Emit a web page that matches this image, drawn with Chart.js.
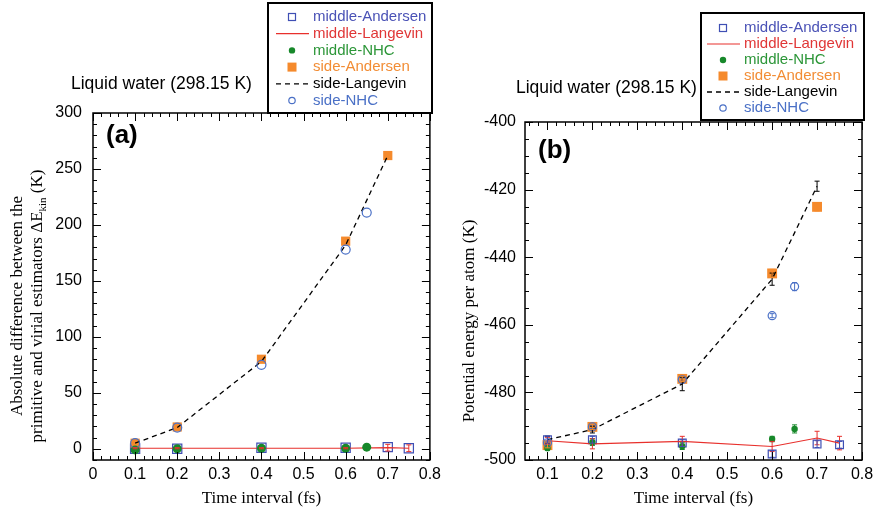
<!DOCTYPE html>
<html lang="en">
<head>
<meta charset="UTF-8">
<title>Liquid water (298.15 K)</title>
<script src="https://cdn.jsdelivr.net/npm/chart.js"></script>
<style>
    body { margin: 0; background: #fff; }
    #wrap { position: relative; width: 879px; height: 512px; }
    canvas { position: absolute; top: 0; }
    #chartA { left: 0; }
    #chartB { left: 440px; }
</style>
</head>
<body>
<div id="wrap">
    <canvas id="chartA" width="446" height="512"></canvas>
    <canvas id="chartB" width="439" height="512"></canvas>
</div>
<script>
    // ---- data ----
    const legendNames = ['middle-Andersen', 'middle-Langevin', 'middle-NHC', 'side-Andersen', 'side-Langevin', 'side-NHC'];

    const xTicksA = [0, 0.1, 0.2, 0.3, 0.4, 0.5, 0.6, 0.7, 0.8];
    const yTicksA = [0, 50, 100, 150, 200, 250, 300];
    const xTicksB = [0.1, 0.2, 0.3, 0.4, 0.5, 0.6, 0.7, 0.8];
    const yTicksB = [-500, -480, -460, -440, -420, -400];

    // time intervals (fs) per series
    const tMid = [0.1, 0.2, 0.4, 0.6, 0.7, 0.75];     // middle-Andersen, middle-Langevin
    const tMidNHC = [0.1, 0.2, 0.4, 0.6, 0.65];
    const tSide = [0.1, 0.2, 0.4, 0.6, 0.7];          // side-Andersen, side-Langevin
    const tSideNHC = [0.1, 0.2, 0.4, 0.6, 0.65];

    // (a) |primitive - virial| kinetic energy difference (K)
    const aMidAndersen = [0, 0, 1, 1, 1.5, 0.5];
    const aMidLangevin = [0.5, 0.5, 0.5, 0.5, 1, 0.5];
    const aMidLangevinErr = [0.5, 0.5, 0.5, 0.5, 3, 3];
    const aMidNHC = [-1, 0, 0.5, 0.5, 1.5];
    const aSideAndersen = [5, 19.5, 80, 185.5, 262];
    const aSideLangevin = [5, 19, 78, 182, 262];
    const aSideNHC = [5, 19, 75, 178, 211];

    // (b) potential energy per atom (K)
    const bMidAndersen = [-494, -494, -495, -498.2, -495.3, -495.5];
    const bMidAndersenErr = [1, 1, 1, 1, 1, 1];
    const bMidLangevin = [-494.3, -495.2, -494.5, -496, -493.5, -495];
    const bMidLangevinErr = [1, 1.5, 1.5, 1.5, 2, 2];
    const bMidNHC = [-496.5, -494.7, -495.9, -493.8, -490.8];
    const bMidNHCErr = [0.6, 1, 1, 0.8, 1.2];
    const bSideAndersen = [-495.6, -490.2, -476, -444.8, -425.1];
    const bSideAndersenErr = [0.8, 0.8, 0.8, 1.2, 1.2];
    const bSideLangevin = [-494, -491, -477.5, -446.5, -419];
    const bSideLangevinErr = [1, 1, 2, 1.8, 1.5];
    const bSideNHC = [-494.9, -490.2, -476.2, -457.3, -448.7];
    const bSideNHCErr = [0.5, 0.5, 0.5, 0.6, 1.2];

    // ---- styles ----
    const BLUE = '#3f4fb4', RED = '#e8302c', GREEN = '#17882a', ORANGE = '#f58a2c', LBLUE = '#4a70c6';
    const textColors = ['#4a52b6', '#e03636', '#2c9638', '#f28d35', '#000', '#4a70c6'];
    const SANS = '"Liberation Sans", Arial, sans-serif';
    const SERIF = '"Liberation Serif", "Times New Roman", serif';

    function pts(xs, ys) {
        return xs.map((x, i) => ({x: x, y: ys[i]}));
    }

    function makeDatasets(d, big) {
        return [
            {label: 'side-NHC', data: pts(tSideNHC, d.sideNHC), errors: d.sideNHCErr, order: 0,
                pointStyle: 'circle', pointRadius: big ? 4.5 : 4, borderColor: LBLUE, backgroundColor: 'rgba(0,0,0,0)',
                pointBorderWidth: 1.2, showLine: false},
            {label: 'side-Langevin', data: pts(tSide, d.sideLangevin), errors: d.sideLangevinErr, order: 1,
                pointRadius: 0, borderColor: '#000', borderWidth: 1.3, borderDash: [5, 4], showLine: true, errColor: '#000'},
            {label: 'middle-NHC', data: pts(tMidNHC, d.midNHC), errors: d.midNHCErr, order: 2,
                pointStyle: 'circle', pointRadius: big ? 4.5 : 3.2, borderColor: GREEN, backgroundColor: GREEN,
                pointBorderWidth: 0, showLine: false},
            {label: 'middle-Langevin', data: pts(tMid, d.midLangevin), errors: d.midLangevinErr, order: 3,
                pointRadius: 0, borderColor: RED, borderWidth: 1.2, showLine: true},
            {label: 'side-Andersen', data: pts(tSide, d.sideAndersen), errors: d.sideAndersenErr, order: 4,
                pointStyle: 'rect', pointRadius: big ? 6.5 : 7, borderColor: ORANGE, backgroundColor: ORANGE,
                pointBorderWidth: 0, showLine: false},
            {label: 'middle-Andersen', data: pts(tMid, d.midAndersen), errors: d.midAndersenErr, order: 5,
                pointStyle: 'rect', pointRadius: big ? 6.5 : 5.5, borderColor: BLUE, backgroundColor: 'rgba(0,0,0,0)',
                pointBorderWidth: 1.2, showLine: false}
        ];
    }

    // ---- plugins ----
    const errorBars = {
        id: 'errorBars',
        afterDatasetsDraw(chart) {
            const {ctx, scales: {x, y}} = chart;
            ctx.save();
            chart.data.datasets.forEach(ds => {
                if (!ds.errors) return;
                ctx.strokeStyle = ds.errColor || ds.borderColor;
                ctx.lineWidth = 1;
                ds.data.forEach((p, i) => {
                    const e = ds.errors[i];
                    if (!e) return;
                    const px = x.getPixelForValue(p.x);
                    const y0 = y.getPixelForValue(p.y - e), y1 = y.getPixelForValue(p.y + e);
                    ctx.beginPath();
                    ctx.moveTo(px, y0); ctx.lineTo(px, y1);
                    ctx.moveTo(px - 2.5, y0); ctx.lineTo(px + 2.5, y0);
                    ctx.moveTo(px - 2.5, y1); ctx.lineTo(px + 2.5, y1);
                    ctx.stroke();
                });
            });
            ctx.restore();
        }
    };

    const frame = {
        id: 'frame',
        afterDraw(chart, args, opts) {
            const {ctx, chartArea: a, scales: {x, y}} = chart;
            ctx.save();
            ctx.strokeStyle = '#000';
            ctx.lineWidth = 1.5;
            ctx.strokeRect(a.left, a.top, a.right - a.left, a.bottom - a.top);
            ctx.lineWidth = 1;
            ctx.beginPath();
            const xt = (v, len) => {
                const p = Math.round(x.getPixelForValue(v)) + 0.5;
                ctx.moveTo(p, a.bottom); ctx.lineTo(p, a.bottom - len);
                ctx.moveTo(p, a.top); ctx.lineTo(p, a.top + len);
            };
            const yt = (v, len) => {
                const p = Math.round(y.getPixelForValue(v)) + 0.5;
                ctx.moveTo(a.left, p); ctx.lineTo(a.left + len, p);
                ctx.moveTo(a.right, p); ctx.lineTo(a.right - len, p);
            };
            for (let k = Math.ceil(x.min / opts.xMinor - 1e-6); k * opts.xMinor <= x.max + 1e-9; k++) xt(k * opts.xMinor, 4);
            for (let k = Math.ceil(y.min / opts.yMinor - 1e-6); k * opts.yMinor <= y.max + 1e-9; k++) yt(k * opts.yMinor, 4);
            x.ticks.forEach(t => xt(t.value, 8));
            y.ticks.forEach(t => yt(t.value, 8));
            ctx.stroke();
            ctx.restore();
        }
    };

    const boxLegend = {
        id: 'boxLegend',
        afterDraw(chart, args, o) {
            const ctx = chart.ctx;
            ctx.save();
            ctx.fillStyle = '#fff';
            ctx.fillRect(o.x, o.y, o.w, o.h);
            ctx.strokeStyle = '#000';
            ctx.lineWidth = 2;
            ctx.strokeRect(o.x, o.y, o.w, o.h);
            ctx.font = '15px ' + SANS;
            ctx.textBaseline = 'middle';
            legendNames.forEach((name, i) => {
                const ds = chart.data.datasets.find(d => d.label === name);
                const cy = o.row0 + i * o.dy;
                const mx = o.markX;
                if (ds.showLine) {
                    ctx.strokeStyle = ds.borderColor;
                    ctx.lineWidth = ds.borderWidth;
                    ctx.setLineDash(ds.borderDash || []);
                    ctx.beginPath();
                    ctx.moveTo(mx - 16, cy); ctx.lineTo(mx + 17, cy);
                    ctx.stroke();
                    ctx.setLineDash([]);
                } else if (ds.pointStyle === 'rect') {
                    const s = ds.backgroundColor === ORANGE ? 9 : 7;
                    if (ds.backgroundColor === ORANGE) {
                        ctx.fillStyle = ORANGE;
                        ctx.fillRect(mx - s / 2, cy - s / 2, s, s);
                    } else {
                        ctx.strokeStyle = ds.borderColor;
                        ctx.lineWidth = 1.2;
                        ctx.strokeRect(mx - s / 2, cy - s / 2, s, s);
                    }
                } else {
                    ctx.beginPath();
                    ctx.arc(mx, cy, 3.2, 0, Math.PI * 2);
                    if (ds.backgroundColor === GREEN) {
                        ctx.fillStyle = GREEN; ctx.fill();
                    } else {
                        ctx.strokeStyle = ds.borderColor; ctx.lineWidth = 1.2; ctx.stroke();
                    }
                }
                ctx.fillStyle = textColors[i];
                ctx.fillText(name, o.textX, cy);
            });
            ctx.restore();
        }
    };

    const notes = {
        id: 'notes',
        afterDraw(chart, args, o) {
            const ctx = chart.ctx;
            ctx.save();
            ctx.fillStyle = '#000';
            ctx.textBaseline = 'middle';
            ctx.font = '17.5px ' + SANS;
            ctx.fillText('Liquid water (298.15 K)', o.noteX, o.noteY);
            ctx.font = 'bold 26px ' + SANS;
            ctx.fillText(o.tag, o.tagX, o.tagY);
            // rotated y title, pieces may be subscripted
            o.yLines.forEach((pieces, li) => {
                const widths = pieces.map(p => {
                    ctx.font = (p.sub ? '11px ' : '17px ') + SERIF;
                    return ctx.measureText(p.t).width;
                });
                const total = widths.reduce((s, w) => s + w, 0);
                ctx.save();
                ctx.translate(o.yTitleX[li], o.yTitleY);
                ctx.rotate(-Math.PI / 2);
                ctx.textAlign = 'left';
                let cx = -total / 2;
                pieces.forEach((p, k) => {
                    ctx.font = (p.sub ? '11px ' : '17px ') + SERIF;
                    ctx.fillText(p.t, cx, p.sub ? 5 : 0);
                    cx += widths[k];
                });
                ctx.restore();
            });
            ctx.restore();
        }
    };

    function makeChart(id, cfg) {
        const tickFont = {family: SANS, size: 16};
        return new Chart(document.getElementById(id), {
            type: 'scatter',
            data: {datasets: cfg.datasets},
            options: {
                responsive: false,
                animation: false,
                devicePixelRatio: 1,
                events: [],
                layout: {padding: {top: cfg.top, right: cfg.right, left: 0, bottom: 0}},
                plugins: {
                    legend: {display: false},
                    tooltip: {enabled: false},
                    frame: {xMinor: 0.02, yMinor: cfg.yMinor},
                    boxLegend: cfg.legend,
                    notes: cfg.notes
                },
                scales: {
                    x: {
                        type: 'linear', min: cfg.xMin, max: 0.8,
                        grid: {display: false, drawTicks: false}, border: {display: false},
                        afterBuildTicks: s => { s.ticks = cfg.xTicks.map(v => ({value: v})); },
                        afterFit: s => { s.height = 52; },
                        ticks: {
                            padding: 5, color: '#000', font: tickFont, maxRotation: 0, autoSkip: false,
                            callback: v => (v === 0 ? '0' : v.toFixed(1))
                        },
                        title: {
                            display: true, text: 'Time interval (fs)', color: '#000',
                            font: {family: SERIF, size: 17}, padding: {top: 0, bottom: 3}
                        }
                    },
                    y: {
                        type: 'linear', min: cfg.yMin, max: cfg.yMax,
                        grid: {display: false, drawTicks: false}, border: {display: false},
                        afterBuildTicks: s => { s.ticks = cfg.yTicks.map(v => ({value: v})); },
                        afterFit: s => { s.width = cfg.yWidth; },
                        ticks: {padding: cfg.yPad, color: '#000', font: tickFont, autoSkip: false, callback: v => String(v)}
                    }
                }
            },
            plugins: [errorBars, frame, boxLegend, notes]
        });
    }

    makeChart('chartA', {
        datasets: makeDatasets({
            midAndersen: aMidAndersen, midLangevin: aMidLangevin, midLangevinErr: aMidLangevinErr,
            midNHC: aMidNHC, sideAndersen: aSideAndersen, sideLangevin: aSideLangevin, sideNHC: aSideNHC
        }, true),
        top: 113, right: 14, yWidth: 93, yPad: 11,
        xMin: 0, xTicks: xTicksA, yMin: -10, yMax: 300, yTicks: yTicksA, yMinor: 10,
        legend: {x: 268, y: 3, w: 164, h: 110, row0: 17, dy: 16.7, markX: 292, textX: 313},
        notes: {
            noteX: 71, noteY: 84, tag: '(a)', tagX: 106, tagY: 136,
            yTitleX: [18, 38], yTitleY: 306,
            yLines: [
                [{t: 'Absolute difference between the'}],
                [{t: 'primitive and virial estimators \u0394E'}, {t: 'kin', sub: true}, {t: ' (K)'}]
            ]
        }
    });

    makeChart('chartB', {
        datasets: makeDatasets({
            midAndersen: bMidAndersen, midAndersenErr: bMidAndersenErr,
            midLangevin: bMidLangevin, midLangevinErr: bMidLangevinErr,
            midNHC: bMidNHC, midNHCErr: bMidNHCErr,
            sideAndersen: bSideAndersen, sideAndersenErr: bSideAndersenErr,
            sideLangevin: bSideLangevin, sideLangevinErr: bSideLangevinErr,
            sideNHC: bSideNHC, sideNHCErr: bSideNHCErr
        }, false),
        top: 122, right: 17, yWidth: 85, yPad: 9,
        xMin: 0.05, xTicks: xTicksB, yMin: -500, yMax: -400, yTicks: yTicksB, yMinor: 5,
        legend: {x: 261, y: 13, w: 163, h: 107, row0: 28, dy: 16, markX: 283, textX: 304},
        notes: {
            noteX: 76, noteY: 88, tag: '(b)', tagX: 98, tagY: 151,
            yTitleX: [30], yTitleY: 321,
            yLines: [[{t: 'Potential energy per atom (K)'}]]
        }
    });
</script>
</body>
</html>
